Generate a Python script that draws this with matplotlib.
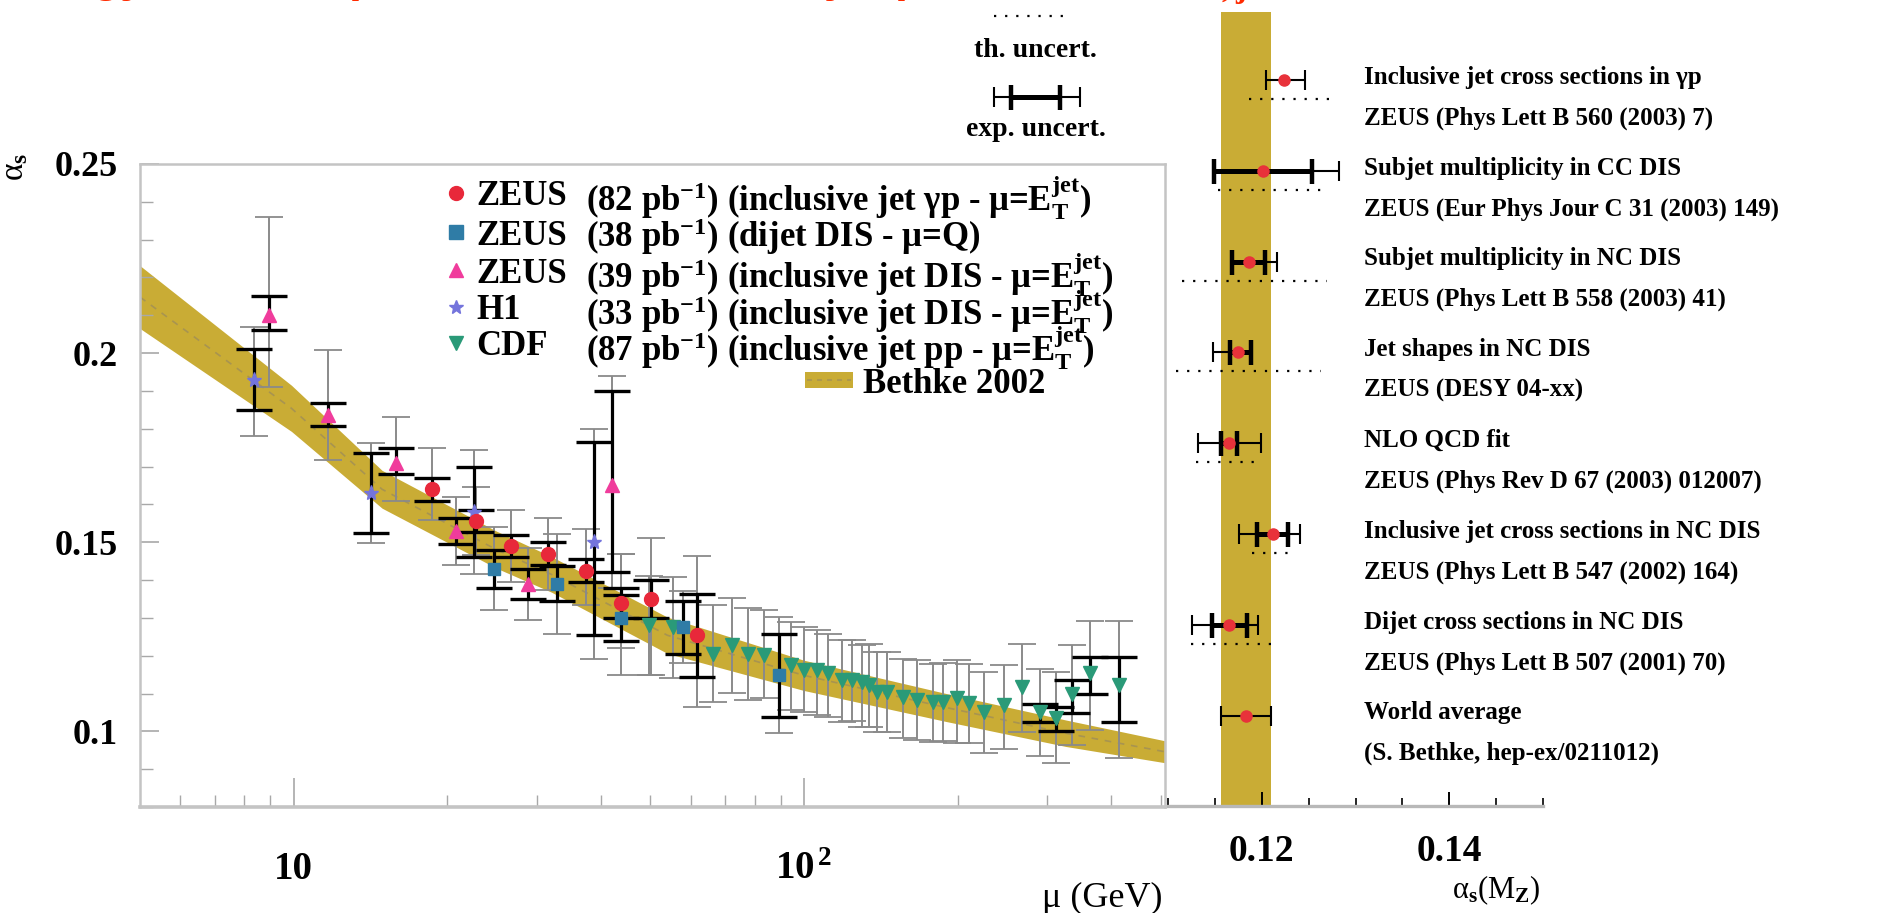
import numpy as np
import matplotlib
matplotlib.use('Agg')
import matplotlib.pyplot as plt
from matplotlib.patches import Rectangle

plt.rcParams['font.family'] = ['Liberation Serif', 'DejaVu Serif']
plt.rcParams['font.weight'] = 'bold'
plt.rcParams['mathtext.fontset'] = 'custom'
plt.rcParams['mathtext.rm'] = 'Liberation Serif:bold'
plt.rcParams['mathtext.it'] = 'Liberation Serif:bold'
plt.rcParams['mathtext.bf'] = 'Liberation Serif:bold'

# Bethke 2002 running coupling band
band_mu = [5, 9.9, 14.9, 25, 32, 54, 100, 190, 326, 510]
band_mid = [0.2148, 0.1854, 0.1640, 0.1480, 0.1415, 0.1254, 0.1148, 0.1063, 0.0995, 0.0946]
band_half = [0.0083, 0.0061, 0.0050, 0.0049, 0.0047, 0.0048, 0.0040, 0.0037, 0.0035, 0.0029]

# ZEUS inclusive jet photoproduction
gp_mu = [18.7, 22.8, 26.7, 31.5, 37.4, 43.7, 50.2, 61.7]
gp_as = [0.164, 0.1556, 0.149, 0.147, 0.1425, 0.134, 0.135, 0.1254]
gp_in_up = [0.003, 0.003, 0.003, 0.003, 0.003, 0.004, 0.005, 0.011]
gp_in_dn = [0.003, 0.003, 0.003, 0.003, 0.003, 0.004, 0.005, 0.011]
gp_up = [0.011, 0.009, 0.0095, 0.0095, 0.011, 0.013, 0.016, 0.021]
gp_dn = [0.008, 0.009, 0.0095, 0.0095, 0.009, 0.012, 0.020, 0.019]

# ZEUS dijet DIS
dj_mu = [24.7, 32.8, 43.7, 58.0, 89.5]
dj_as = [0.143, 0.139, 0.130, 0.1275, 0.1148]
dj_in_up = [0.005, 0.0046, 0.006, 0.007, 0.011]
dj_in_dn = [0.005, 0.0046, 0.006, 0.007, 0.011]
dj_up = [0.011, 0.0133, 0.017, 0.0095, 0.0153]
dj_dn = [0.011, 0.0133, 0.015, 0.0095, 0.0153]

# ZEUS inclusive jet DIS
ij_mu = [8.96, 11.7, 15.9, 20.8, 28.8, 42.0]
ij_as = [0.210, 0.1837, 0.171, 0.153, 0.139, 0.165]
ij_in_up = [0.005, 0.003, 0.004, 0.0035, 0.004, 0.025]
ij_in_dn = [0.004, 0.003, 0.003, 0.0035, 0.004, 0.023]
ij_up = [0.026, 0.017, 0.012, 0.009, 0.0095, 0.029]
ij_dn = [0.019, 0.012, 0.010, 0.009, 0.0095, 0.027]

# H1 inclusive jet DIS
h1_mu = [8.36, 14.2, 22.6, 38.7]
h1_as = [0.193, 0.163, 0.158, 0.150]
h1_in_up = [0.008, 0.0105, 0.012, 0.0265]
h1_in_dn = [0.008, 0.0105, 0.012, 0.0245]
h1_up = [0.014, 0.0133, 0.0165, 0.030]
h1_dn = [0.015, 0.0133, 0.0165, 0.031]

# CDF inclusive jets
cdf_mu = [49.6, 55.4, 66.2, 72.4, 77.8, 83.5, 94.4, 100, 105.9, 111.3, 118.5, 124,
          129.7, 134.4, 139.3, 145.6, 156.4, 166.6, 178.8, 187, 199.2, 210.2, 225.7,
          246.8, 267.5, 289.8, 311.3, 334.6, 362.7, 414.7]
cdf_as = [0.128, 0.1275, 0.1205, 0.1227, 0.1205, 0.1201, 0.1175, 0.1162, 0.1162, 0.1153,
          0.1135, 0.1135, 0.1131, 0.1122, 0.1104, 0.1104, 0.1091, 0.1083, 0.1078, 0.1078,
          0.1087, 0.1074, 0.1052, 0.1070, 0.1118, 0.1052, 0.1035, 0.1100, 0.1153, 0.1122]
cdf_in_up = [0] * 25 + [0.002, 0.003, 0.0035, 0.0043, 0.0074]
cdf_in_dn = [0] * 25 + [0.0026, 0.0033, 0.0052, 0.0055, 0.0096]
cdf_up = [0.013, 0.0132, 0.013, 0.0126, 0.0121, 0.012, 0.0114, 0.0114, 0.0105, 0.0105,
          0.0106, 0.0107, 0.0096, 0.011, 0.0106, 0.0105, 0.0101, 0.0105, 0.0101, 0.0103,
          0.0101, 0.0105, 0.0105, 0.0105, 0.0114, 0.0114, 0.0122, 0.0127, 0.014, 0.0169]
cdf_dn = [0.013, 0.0135, 0.0127, 0.0125, 0.0122, 0.0114, 0.0119, 0.011, 0.0119, 0.0115,
          0.0109, 0.0107, 0.0119, 0.011, 0.0105, 0.0105, 0.0109, 0.0105, 0.0105, 0.0103,
          0.0118, 0.0105, 0.011, 0.0117, 0.0119, 0.0117, 0.0119, 0.0136, 0.0149, 0.0193]

# alpha_s(M_Z) summary
sum_line1 = ['Inclusive jet cross sections in γp', 'Subjet multiplicity in CC DIS',
             'Subjet multiplicity in NC DIS', 'Jet shapes in NC DIS', 'NLO QCD fit',
             'Inclusive jet cross sections in NC DIS', 'Dijet cross sections in NC DIS',
             'World average']
sum_line2 = ['ZEUS (Phys Lett B 560 (2003) 7)', 'ZEUS (Eur Phys Jour C 31 (2003) 149)',
             'ZEUS (Phys Lett B 558 (2003) 41)', 'ZEUS (DESY 04-xx)',
             'ZEUS (Phys Rev D 67 (2003) 012007)', 'ZEUS (Phys Lett B 547 (2002) 164)',
             'ZEUS (Phys Lett B 507 (2001) 70)', '(S. Bethke, hep-ex/0211012)']
sum_as = [0.1224, 0.1201, 0.1186, 0.1175, 0.1165, 0.1212, 0.1165, 0.1183]
sum_stat_lo = [0, 0.0052, 0.0018, 0.0009, 0.0008, 0.0017, 0.0018, 0]
sum_stat_hi = [0, 0.0053, 0.0017, 0.0013, 0.0009, 0.0016, 0.0019, 0]
sum_exp_lo = [0.0020, 0.0052, 0.0018, 0.0027, 0.0033, 0.0036, 0.0039, 0.0027]
sum_exp_hi = [0.0022, 0.0081, 0.0030, 0.0013, 0.0034, 0.0029, 0.0031, 0.0027]
sum_th_lo = [0.0038, 0.0048, 0.0071, 0.0066, 0.0035, 0.0022, 0.0040, 0]
sum_th_hi = [0.0051, 0.0063, 0.0084, 0.0088, 0.0034, 0.0023, 0.0051, 0]
world_as = 0.1183
world_err = 0.0027

BAND = '#c9ac35'
FRAME = '#c4c4c4'
DOTS = (0, (1, 4))

fig = plt.figure(figsize=(18.8, 9.13), dpi=100)
ax = fig.add_axes([0.0745, 0.1161, 0.5452, 0.7043])
axr = fig.add_axes([0.6213, 0.1172, 0.1995, 0.8697])

# ---------------- left: alpha_s vs scale ----------------
lo = np.array(band_mid) - np.array(band_half)
hi = np.array(band_mid) + np.array(band_half)
ax.fill_between(band_mu, lo, hi, color=BAND, lw=0, zorder=1)
ax.plot(band_mu, band_mid, color='#a89450', lw=1.2, ls=(0, (4, 4)), zorder=1.5)


def draw_series(mu, a, in_dn, in_up, dn, up, marker, color, ms):
    eb = ax.errorbar(mu, a, yerr=[dn, up], fmt='none', ecolor='#8a8a8a',
                     elinewidth=1.4, capsize=10, capthick=1.3, zorder=3)
    for cap in eb[1]:
        cap.set_color('#2a2a2a')
    keep = [i for i in range(len(mu)) if in_up[i] > 0]
    if keep:
        ax.errorbar([mu[i] for i in keep], [a[i] for i in keep],
                    yerr=[[in_dn[i] for i in keep], [in_up[i] for i in keep]],
                    fmt='none', ecolor='black', elinewidth=2.3, capsize=13,
                    capthick=2.4, zorder=4)
    ax.plot(mu, a, ls='none', marker=marker, color=color, mec=color, ms=ms, zorder=5)


draw_series(cdf_mu, cdf_as, cdf_in_dn, cdf_in_up, cdf_dn, cdf_up, 'v', '#2a9a78', 10)
draw_series(h1_mu, h1_as, h1_in_dn, h1_in_up, h1_dn, h1_up, '*', '#7474dc', 11)
draw_series(dj_mu, dj_as, dj_in_dn, dj_in_up, dj_dn, dj_up, 's', '#2f7ca6', 9)
draw_series(ij_mu, ij_as, ij_in_dn, ij_in_up, ij_dn, ij_up, '^', '#f03c9c', 10)
draw_series(gp_mu, gp_as, gp_in_dn, gp_in_up, gp_dn, gp_up, 'o', '#e8283a', 10)

ax.set_xscale('log')
ax.set_xlim(5, 510)
ax.set_ylim(0.08, 0.25)
ax.set_xticks([10, 100])
ax.set_xticklabels(['10', '10$^{\\,2}$'])
ax.set_xticks([6, 7, 8, 9, 20, 30, 40, 50, 60, 70, 80, 90, 200, 300, 400, 500], minor=True)
ax.set_yticks([0.1, 0.15, 0.2, 0.25])
ax.set_yticklabels(['0.1', '0.15', '0.2', '0.25'])
ax.set_yticks(np.arange(0.08, 0.2501, 0.01), minor=True)
ax.xaxis.set_minor_formatter(plt.NullFormatter())
ax.tick_params(axis='x', which='major', direction='in', length=21, width=1.2,
               color='#a8a8a8', labelsize=28, pad=32)
ax.tick_params(axis='y', which='major', direction='in', length=14, width=1.2,
               color='#a8a8a8', labelsize=26, pad=16)
ax.tick_params(which='minor', direction='in', length=9, width=1.0, color='#a8a8a8')
for s in ax.spines.values():
    s.set_color(FRAME)
    s.set_linewidth(1.8)
ax.spines['bottom'].set_linewidth(2.6)

fig.text(1163 / 1880, 1 - 898 / 913, 'μ (GeV)', fontsize=26, fontweight='normal',
         ha='right', va='center')
fig.text(0.008, 0.817, 'α$_s$', rotation=90, ha='center', va='center', fontsize=24,
         fontweight='normal')

# legend drawn in axes coordinates
leg_names = ['ZEUS', 'ZEUS', 'ZEUS', 'H1', 'CDF']
leg_rest = ['(82 pb$^{-1}$) (inclusive jet γp - μ=E$_{T}^{jet}$)',
            '(38 pb$^{-1}$) (dijet DIS - μ=Q)',
            '(39 pb$^{-1}$) (inclusive jet DIS - μ=E$_{T}^{jet}$)',
            '(33 pb$^{-1}$) (inclusive jet DIS - μ=E$_{T}^{jet}$)',
            '(87 pb$^{-1}$) (inclusive jet pp - μ=E$_{T}^{jet}$)']
leg_marks = [('o', '#e8283a'), ('s', '#2f7ca6'), ('^', '#f03c9c'),
             ('*', '#7474dc'), ('v', '#2a9a78')]
leg_y = [0.955, 0.894, 0.835, 0.778, 0.722]
for name, rest, (m, c), y in zip(leg_names, leg_rest, leg_marks, leg_y):
    ax.plot([0.3083], [y], marker=m, color=c, mec=c, ms=10, transform=ax.transAxes,
            clip_on=False, zorder=6)
    ax.text(0.3278, y, name, transform=ax.transAxes, fontsize=25, va='center_baseline')
    ax.text(0.4355, y, rest, transform=ax.transAxes, fontsize=25, va='center_baseline')
ax.add_patch(Rectangle((0.6488, 0.652), 0.0468, 0.024, transform=ax.transAxes,
                       color=BAND, lw=0, zorder=6))
ax.plot([0.6508, 0.6936], [0.664, 0.664], color='#a89450', lw=1.2, ls=(0, (3, 3)),
        transform=ax.transAxes, zorder=7)
ax.text(0.7054, 0.664, 'Bethke 2002', transform=ax.transAxes, fontsize=25,
        va='center_baseline')

# ---------------- right: alpha_s(M_Z) summary ----------------
rows = np.arange(len(sum_as))
axr.axvspan(world_as - world_err, world_as + world_err, color=BAND, lw=0, zorder=1)

th = [i for i in rows if sum_th_hi[i] > 0]
axr.hlines([rows[i] + 0.21 for i in th],
           [sum_as[i] - sum_th_lo[i] for i in th],
           [sum_as[i] + sum_th_hi[i] for i in th],
           color='black', lw=1.6, linestyles=DOTS, zorder=3)
axr.errorbar(sum_as, rows, xerr=[sum_exp_lo, sum_exp_hi], fmt='none', ecolor='black',
             elinewidth=1.5, capsize=7, capthick=1.5, zorder=3)
st = [i for i in rows if sum_stat_hi[i] > 0]
axr.errorbar([sum_as[i] for i in st], [rows[i] for i in st],
             xerr=[[sum_stat_lo[i] for i in st], [sum_stat_hi[i] for i in st]],
             fmt='none', ecolor='black', elinewidth=3.6, capsize=9, capthick=3.2, zorder=4)
axr.plot(sum_as, rows, ls='none', marker='o', ms=8, color='#e8323a', zorder=5)

for i in rows:
    axr.text(0.1309, i - 0.03, sum_line1[i], fontsize=18, va='center', ha='left')
    axr.text(0.1309, i + 0.42, sum_line2[i], fontsize=18, va='center', ha='left')

# uncertainty keys above the panels
key_x = 0.0959
axr.plot([key_x - 0.0045, key_x + 0.0035], [-0.705, -0.705], color='black', lw=1.6,
         ls=DOTS, clip_on=False)
axr.text(key_x, -0.33, 'th. uncert.', fontsize=20, ha='center', va='center')
k1 = axr.errorbar([key_x], [0.187], xerr=[[0.0045], [0.0047]], fmt='none', ecolor='black',
                  elinewidth=1.5, capsize=7, capthick=1.5)
k2 = axr.errorbar([key_x], [0.187], xerr=[[0.0026], [0.0026]], fmt='none', ecolor='black',
                  elinewidth=3.6, capsize=9, capthick=3.2)
for art in list(k1.get_children()) + list(k2.get_children()):
    art.set_clip_on(False)
axr.text(key_x, 0.55, 'exp. uncert.', fontsize=20, ha='center', va='center')

axr.set_xlim(0.11, 0.15)
axr.set_ylim(7.996, -0.749)
axr.set_xticks([0.12, 0.14])
axr.set_xticklabels(['0.12', '0.14'])
axr.set_xticks(np.arange(0.11, 0.1501, 0.005), minor=True)
axr.tick_params(axis='x', which='major', direction='in', length=10, width=1.4,
                color='black', labelsize=27, pad=20)
axr.tick_params(axis='x', which='minor', direction='in', length=6, width=1.2, color='black')
axr.set_yticks([])
for side in ['top', 'left', 'right']:
    axr.spines[side].set_visible(False)
axr.spines['bottom'].set_color('#b8b8b8')
axr.spines['bottom'].set_linewidth(2.4)
fig.text(1541 / 1880, 1 - 890 / 913, 'α$_s$(M$_Z$)', fontsize=22, fontweight='normal',
         ha='right', va='center')

# slide heading, mostly above the top edge
fig.text(0.335, 1.0095, 'Energy-scale dependence of αs from jet production, E$_{T,jet}$',
         color='#ff2a00', fontsize=34, fontweight='bold', family='Liberation Sans',
         ha='center', va='baseline')

fig.savefig('out.png', dpi=100)
